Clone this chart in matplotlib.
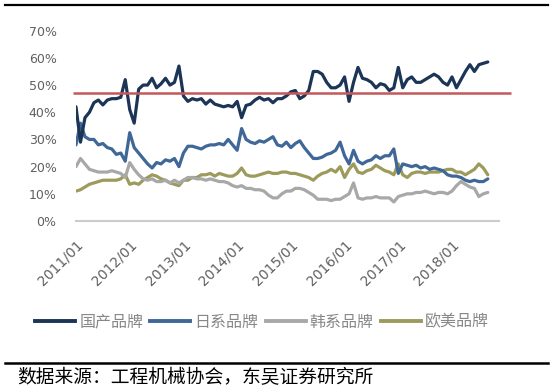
import matplotlib
matplotlib.use("Agg")
import matplotlib.pyplot as plt
import numpy as np
from matplotlib.lines import Line2D

plt.rcParams['font.family'] = ['Noto Sans CJK SC', 'DejaVu Sans']

series_names = ["国产品牌", "日系品牌", "韩系品牌", "欧美品牌"]
tick_labels = ["2011/01", "2012/01", "2013/01", "2014/01", "2015/01", "2016/01", "2017/01", "2018/01"]
y_tick_labels = ["0%", "10%", "20%", "30%", "40%", "50%", "60%", "70%"]
source_text = "数据来源：工程机械协会，东吴证券研究所"
ref_value = 47

domestic = [42, 29, 38, 40, 43.5, 44.5, 42.7, 44.5, 45, 45, 45.5, 52, 41, 36, 48.5, 50,
            50, 52.5, 49, 50.5, 52.5, 50, 51, 57, 46, 44, 45, 44.5, 45, 43, 44.5, 43,
            42.5, 42, 42.5, 42, 44, 38, 42.5, 43, 44.5, 45.5, 44.5, 45, 43.5, 45, 45, 46,
            47.5, 48, 45, 46, 48, 55, 55, 54, 51, 49, 49, 50, 53, 44, 51, 56.5, 52.5, 52,
            51, 49, 50.5, 50, 48, 49, 56.5, 49, 52, 53, 51, 51, 52, 53, 54, 53, 51, 50,
            53, 49, 52, 55, 57.5, 55, 57.5, 58, 58.5]
japanese = [28, 36, 31, 30, 30, 28, 28.5, 27, 26.5, 24.5, 25, 22, 32.5, 27, 25, 23,
            21, 19.5, 21.5, 21, 22.5, 22, 23, 20, 25, 27.5, 27.5, 27, 26.5, 27.5, 28, 28,
            28.5, 28, 30, 28, 26, 34, 30, 29, 28.5, 29.5, 29, 30, 31, 28, 27.5, 29,
            27, 28.5, 29.5, 27, 25, 23, 23, 23.5, 24.5, 25, 26, 29, 24, 21, 26, 22, 21, 22,
            22.5, 24, 23, 24, 24, 26.5, 17.5, 21, 20.5, 20, 20.5, 19.5, 20, 19, 19.5, 19, 18.5, 17,
            16.5, 16.5, 16, 15, 14.5, 15, 14.5, 14.5, 15.5]
korean = [20, 23, 21, 19, 18.5, 18, 18, 18, 18.5, 18, 17.5, 16, 21.5, 19, 17, 15.5,
          15, 15.5, 14.5, 14.5, 15, 14, 15, 14, 15, 16, 16, 15.5, 15.5, 15, 15.5, 15,
          14.5, 14.5, 14, 13, 12.5, 13, 12, 12, 11.5, 11.5, 11, 9.5, 8.5, 8.5, 10, 11,
          11, 12, 12, 11.5, 10.5, 9.5, 8, 8, 8, 7.5, 8, 8, 9, 10, 14, 8.5, 8, 8.5,
          8.5, 9, 8.5, 8.5, 8.5, 7, 9, 9.5, 10, 10, 10.5, 10.5, 11, 10.5, 10, 10.5, 10.5, 10,
          11, 13, 14.5, 13.5, 12.5, 12, 9, 10, 10.5]
european = [11, 11.5, 12.5, 13.5, 14, 14.5, 15, 15, 15, 15, 15.5, 17, 13.5, 14, 13.5, 15,
            16, 17, 16.5, 15.5, 15, 14, 13.5, 13, 15, 15, 16, 16, 17, 17, 17.5, 16.5,
            17.5, 17, 16.5, 16.5, 17.5, 19.5, 17, 16.5, 16.5, 17, 17.5, 18, 17.5, 17.5, 18, 18,
            17.5, 17.5, 17, 16.5, 16, 15, 16.5, 17.5, 18, 19, 18, 20, 16, 19, 21, 18, 17.5, 18.5,
            19, 20.5, 19.5, 18.5, 18, 17, 21, 17, 16, 17.5, 18, 18, 17.5, 18, 18, 18, 18.5, 19,
            19, 18, 18, 17, 18, 19, 21, 19.5, 17]

colors = ["#1c3557", "#3f6797", "#a8a8a8", "#9d9b5c"]
red = "#c4585a"

fig = plt.figure(figsize=(5.5, 3.92), dpi=100)
ax = fig.add_axes([76 / 550, 1 - 221 / 392, 423 / 550, (221 - 30.7) / 392])

x = np.arange(len(domestic))
all_series = [domestic, japanese, korean, european]
for idx in [2, 3, 1, 0]:
    ax.plot(x[:len(all_series[idx])], all_series[idx], color=colors[idx], lw=2.3,
            solid_joinstyle='round', solid_capstyle='round', zorder=3 + (3 - idx))

ax.hlines(ref_value, -0.7, 97.2, color=red, lw=1.8, zorder=8, clip_on=False)

ax.set_xlim(0, 94.5)
ax.set_ylim(0, 70)
ax.set_yticks(np.arange(0, 71, 10))
ax.set_yticklabels(y_tick_labels, family=['DejaVu Sans'], fontsize=9, color="#606060")
ax.set_xticks(np.arange(0, 12 * len(tick_labels), 12))
ax.set_xticklabels(tick_labels, rotation=45, ha='right', va='top', rotation_mode='anchor',
                   family=['DejaVu Sans'], fontsize=10, color="#606060")
ax.tick_params(axis='both', length=0)
ax.tick_params(axis='y', pad=14)
ax.tick_params(axis='x', pad=12)
for s in ['top', 'right', 'left']:
    ax.spines[s].set_visible(False)
ax.spines['bottom'].set_color("#cccccc")
ax.spines['bottom'].set_linewidth(1.5)

handles = [Line2D([0], [0], color=c, lw=2.8) for c in colors]
leg = fig.legend(handles, series_names, loc='center', bbox_to_anchor=(262 / 550, 1 - 322 / 392),
                 ncol=4, frameon=False, fontsize=11.5, handlelength=2.5, handletextpad=0.25,
                 columnspacing=0.45, labelcolor="#888888")

fig.add_artist(Line2D([5 / 550, 548 / 550], [1 - 5 / 392, 1 - 5 / 392], color='black', lw=1.6))
fig.add_artist(Line2D([5 / 550, 548 / 550], [1 - 363 / 392, 1 - 363 / 392], color='black', lw=1.8))
fig.text(17 / 550, 1 - 378 / 392, source_text, fontsize=13.5, color='black', va='center', ha='left')

fig.savefig("out.png", dpi=100, facecolor='white')
